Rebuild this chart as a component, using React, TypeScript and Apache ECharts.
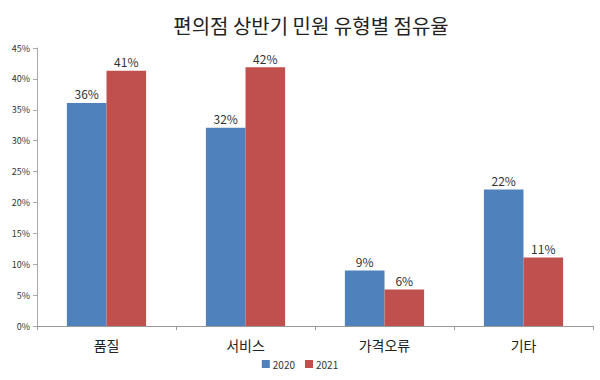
import React, { useEffect, useRef } from "react";
import * as echarts from "echarts";

const categories = ["품질", "서비스", "가격오류", "기타"];
const series2020 = [36.1, 32.1, 9.0, 22.1];
const series2021 = [41.3, 41.9, 5.9, 11.1];
const seriesNames = ["2020", "2021"];
const colors = ["#4F81BD", "#C0504D"];

const FONT = "'Noto Sans CJK KR', 'Noto Sans', sans-serif";

export default function App() {
  const ref = useRef<HTMLDivElement>(null);
  useEffect(() => {
    if (!ref.current) return;
    const chart = echarts.init(ref.current, undefined, { renderer: "svg" });
    const label = {
      show: true,
      position: "top" as const,
      distance: 3,
      fontSize: 12,
      color: "#333",
      fontFamily: FONT,
      formatter: (p: any) => Math.round(p.value) + "%",
    };
    chart.setOption({
      animation: false,
      backgroundColor: "#ffffff",
      textStyle: { fontFamily: FONT },
      title: {
        text: "편의점 상반기 민원 유형별 점유율",
        left: 306,
        textAlign: "center",
        top: 10,
        textStyle: { fontSize: 20, fontWeight: "normal", color: "#222", fontFamily: FONT },
      },
      legend: {
        data: seriesNames,
        bottom: 6,
        left: "center",
        itemWidth: 8,
        itemHeight: 8,
        itemGap: 10,
        icon: "rect",
        textStyle: { fontSize: 10, color: "#333", fontFamily: FONT, padding: [0, 0, 0, -2] },
      },
      grid: { left: 37, right: 7, top: 48, bottom: 54, containLabel: false },
      xAxis: {
        type: "category",
        data: categories,
        axisLine: { lineStyle: { color: "#999" } },
        axisTick: { show: true, length: 4, lineStyle: { color: "#999" } },
        axisLabel: { fontSize: 14, color: "#222", margin: 12, fontFamily: FONT },
      },
      yAxis: {
        type: "value",
        min: 0,
        max: 45,
        interval: 5,
        axisLine: { show: true, lineStyle: { color: "#aaa" } },
        axisTick: { show: true, length: 4, lineStyle: { color: "#aaa" } },
        splitLine: { show: false },
        axisLabel: { fontSize: 9, color: "#333", formatter: "{value}%", margin: 7, fontFamily: FONT },
      },
      series: [
        {
          name: seriesNames[0],
          type: "bar",
          data: series2020,
          itemStyle: { color: colors[0] },
          barGap: "0%",
          barCategoryGap: "43%",
          label,
        },
        {
          name: seriesNames[1],
          type: "bar",
          data: series2021,
          itemStyle: { color: colors[1] },
          barGap: "0%",
          barCategoryGap: "43%",
          label,
        },
      ],
    });
    return () => chart.dispose();
  }, []);
  return <div ref={ref} style={{ width: 600, height: 380, position: "absolute", left: 0, top: 0 }} />;
}
